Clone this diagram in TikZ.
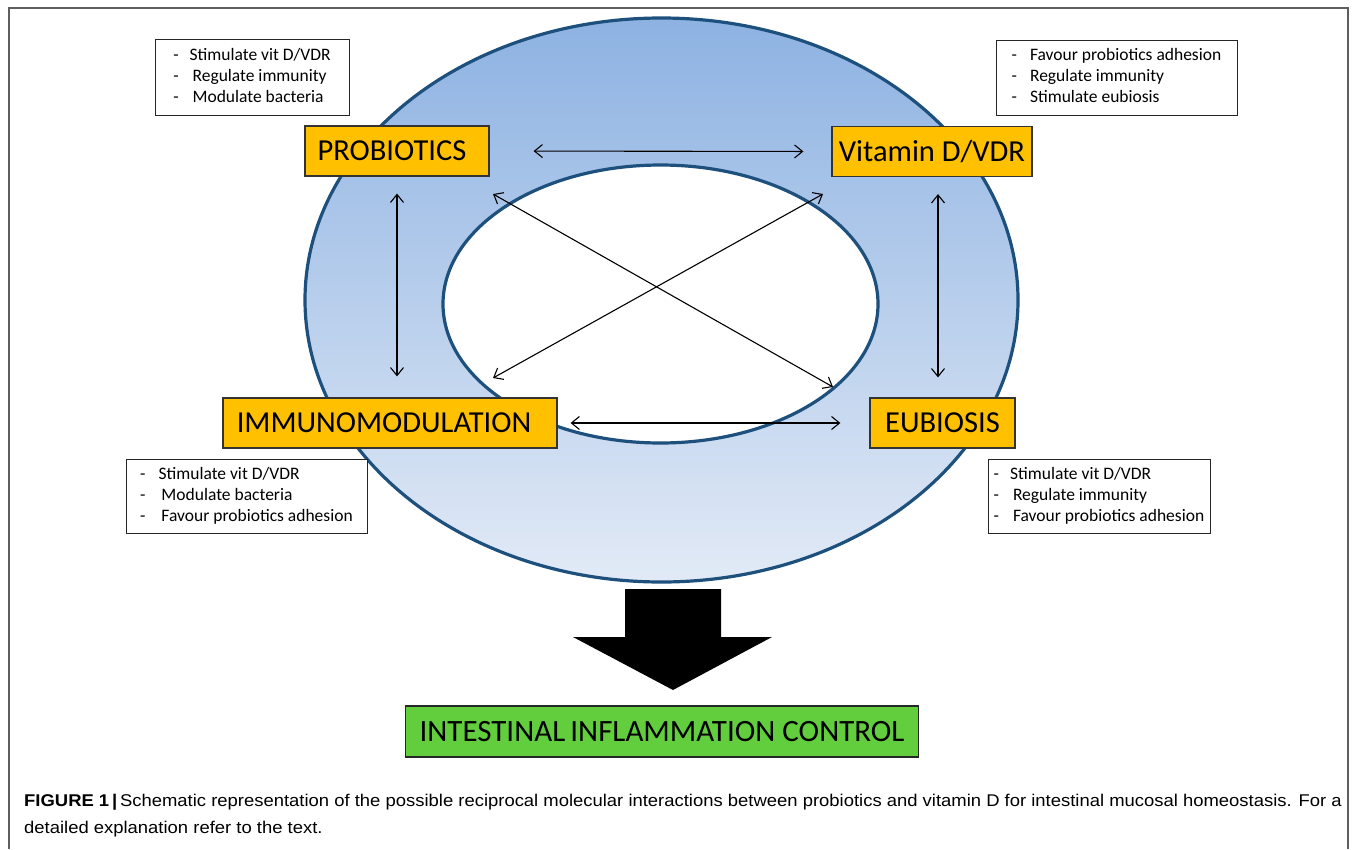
\documentclass[tikz,border=0pt]{standalone}
\usepackage{fontspec}
\setmainfont{Carlito}
\newfontfamily\capfont[FakeStretch=1.085]{Liberation Sans}
\usetikzlibrary{arrows.meta}
\definecolor{ringtop}{RGB}{141,178,226}
\definecolor{ringbot}{RGB}{226,234,246}
\definecolor{ringline}{RGB}{30,80,125}
\definecolor{boxorange}{RGB}{255,192,0}
\definecolor{boxgreen}{RGB}{98,206,62}
\definecolor{framegray}{RGB}{95,95,95}
\begin{document}
\begin{tikzpicture}[x=1pt,y=-1pt,
  keybox/.style={draw=black!80,line width=1.2pt,fill=boxorange,inner sep=0pt,
    font=\fontsize{30.5}{32}\selectfont},
  notebox/.style={draw=black!85,line width=1pt,fill=white,inner sep=0pt,
    font=\fontsize{17.5}{21}\selectfont},
  link/.style={line width=1.1pt,{Straight Barb[length=8pt,width=13pt]}-{Straight Barb[length=8pt,width=13pt]}},
  ring/.style={draw=ringline,line width=3.2pt}]
\useasboundingbox (0,0) rectangle (1355,849);
% frame
\draw[framegray,line width=1.4pt] (9,849) -- (9,8) -- (1348,8) -- (1348,849);
% rings
\shade[top color=ringtop,bottom color=ringbot,ring] (661.5,300) ellipse [x radius=356.5,y radius=282];
\draw[ring,fill=white] (660.5,304) ellipse [x radius=217.5,y radius=139];
% key nodes
\node[keybox,minimum width=184,minimum height=50] (prob) at (397,151) {PROBIOTICS\hspace*{10pt}};
\node[keybox,minimum width=200,minimum height=50] (vit) at (932,151.5) {Vitamin D/VDR};
\node[keybox,minimum width=334,minimum height=50] (imm) at (390,423) {IMMUNOMODULATION\hspace*{12pt}};
\node[keybox,minimum width=145,minimum height=50] (eub) at (942.5,423) {EUBIOSIS};
% note boxes
\node[notebox,minimum width=194,minimum height=76] (ntl) at (252,77) {%
  \begin{tabular}{@{}l@{\hspace{11pt}}l@{}}-&Stimulate vit D/VDR\\-&\,Regulate immunity\\-&\,Modulate bacteria\end{tabular}};
\node[notebox,minimum width=241,minimum height=75] (ntr) at (1116.5,77.5) {%
  \begin{tabular}{@{}l@{\hspace{13pt}}l@{}}-&Favour probiotics adhesion\\-&Regulate immunity\\-&Stimulate eubiosis\end{tabular}};
\node[notebox,minimum width=241,minimum height=74] (nbl) at (246.5,496) {%
  \begin{tabular}{@{}l@{\hspace{13pt}}l@{}}-&Stimulate vit D/VDR\\-&\,Modulate bacteria\\-&\,Favour probiotics adhesion\end{tabular}};
\node[notebox,minimum width=222,minimum height=74] (nbr) at (1099,496) {%
  \begin{tabular}{@{}l@{\hspace{11pt}}l@{}}-&Stimulate vit D/VDR\\-&\,Regulate immunity\\-&\,Favour probiotics adhesion\end{tabular}};
% diagonal end points
\coordinate (pd) at (493,194);
\coordinate (ed) at (833,387);
\coordinate (vd) at (823,194);
\coordinate (id) at (493,378);
% connectors
\draw[link,shorten <=44pt,shorten >=28pt] (prob.east) -- (vit.west);
\draw[link,shorten <=13pt,shorten >=29pt] (imm.east) -- (eub.west);
\draw[link,shorten <=17pt,shorten >=21pt] (prob.south) -- (prob.south |- imm.north);
\draw[link,shorten <=17pt,shorten >=20pt] ([xshift=6]vit.south) -- ([xshift=6]vit.south |- eub.north);
\draw[link] (pd) -- (ed);
\draw[link] (vd) -- (id);
% result
\node[draw=black!85,line width=1.2pt,fill=boxgreen,inner sep=0pt,minimum width=513,minimum height=51,
  font=\fontsize{31}{32}\selectfont] (res) at (662,731.5) {INTESTINAL\,INFLAMMATION CONTROL};
\fill[black] (625,589) -- (721,589) -- (721,637) -- (772,637) -- (673,690) -- (573,637) -- (625,637) -- cycle;
% caption
\node[anchor=north west,inner sep=0pt,align=left,font=\capfont\fontsize{17}{27}\selectfont] (cap) at (24,794)
  {\textbf{FIGURE 1\,|}\,Schematic representation of the possible reciprocal molecular interactions between probiotics and vitamin D for intestinal mucosal homeostasis. For a\\
   detailed explanation refer to the text.};
\end{tikzpicture}
\end{document}
